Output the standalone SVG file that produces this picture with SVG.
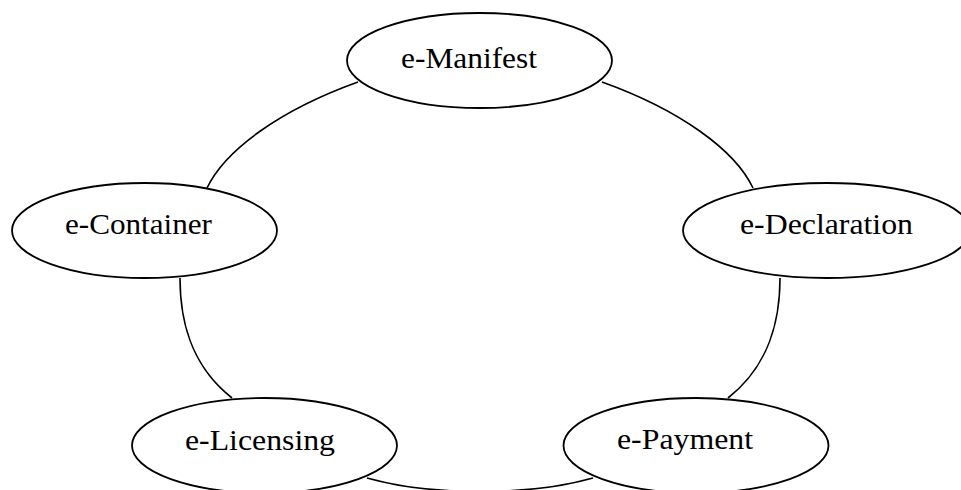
<svg xmlns="http://www.w3.org/2000/svg" width="961" height="490" viewBox="0 0 961 490">
<style>
.node ellipse{fill:#ffffff;stroke:#000000;stroke-width:1.8}
.node text{font-family:"Liberation Serif","Times New Roman",serif;font-size:29px;fill:#000000}
.edges path{fill:none;stroke:#000000;stroke-width:1.6}
</style>
<rect width="961" height="490" fill="#ffffff"/>
<g class="edges" id="edges">
<path d="M358,82 C280,110 225,150 207,188"/>
<path d="M602,82 C680,110 735,150 753,188"/>
<path d="M180,278 C180,320 190,365 232,398"/>
<path d="M780,278 C780,320 770,365 728,398"/>
<path d="M367,478 C430,496 530,496 593,478"/>
</g>
<g class="node" id="n-manifest">
<ellipse cx="479.5" cy="60.5" rx="132.5" ry="47.5"/>
<text x="401" y="68" textLength="136" lengthAdjust="spacingAndGlyphs">e-Manifest</text>
</g>
<g class="node" id="n-container">
<ellipse cx="144.5" cy="230.5" rx="132.5" ry="47.5"/>
<text x="65" y="234" textLength="147" lengthAdjust="spacingAndGlyphs">e-Container</text>
</g>
<g class="node" id="n-declaration">
<ellipse cx="826.5" cy="230.5" rx="143.5" ry="47.5"/>
<text x="740" y="234" textLength="173" lengthAdjust="spacingAndGlyphs">e-Declaration</text>
</g>
<g class="node" id="n-licensing">
<ellipse cx="264.5" cy="445.5" rx="132.5" ry="47.5"/>
<text x="185" y="450" textLength="150" lengthAdjust="spacingAndGlyphs">e-Licensing</text>
</g>
<g class="node" id="n-payment">
<ellipse cx="696" cy="445.5" rx="132.5" ry="47.5"/>
<text x="617" y="449" textLength="136" lengthAdjust="spacingAndGlyphs">e-Payment</text>
</g>
</svg>
